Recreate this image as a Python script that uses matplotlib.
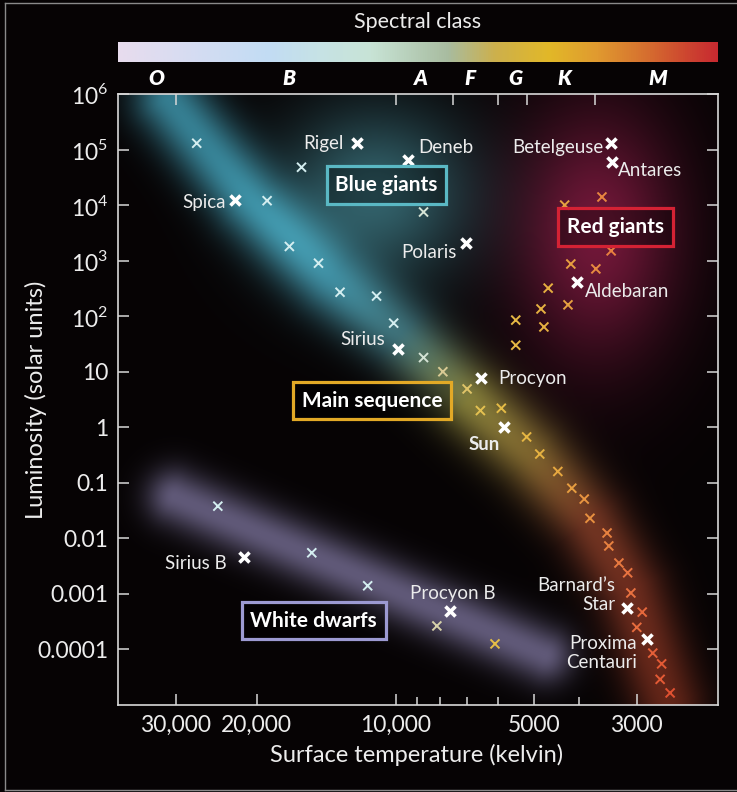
import numpy as np
import matplotlib.pyplot as plt
import matplotlib.transforms as mtransforms
from matplotlib.colors import LinearSegmentedColormap, to_rgb
from matplotlib.lines import Line2D

plt.rcParams['font.family'] = ['Lato', 'DejaVu Sans']
plt.rcParams['mathtext.fontset'] = 'custom'
plt.rcParams['mathtext.rm'] = 'Lato'

# --- data -------------------------------------------------------------
t_max, t_min = 40000, 2000
l_min, l_max = 1e-5, 1e6

# unlabeled main-sequence stars
ms_temp = [27000, 16000, 19000, 17000, 14700, 13200, 11000, 10100, 8700, 7900,
           7000, 6550, 5900, 5200, 4870, 4450, 4150, 3900, 3790, 3480,
           3450, 3280, 3140, 3090, 2920, 3000, 2770, 2650, 2670, 2540]
ms_lum = [1.3e5, 4.8e4, 1.2e4, 1800, 900, 270, 230, 75, 18, 10,
          4.9, 2.0, 2.2, 0.67, 0.33, 0.16, 0.08, 0.051, 0.023, 0.0125,
          0.0073, 0.0036, 0.0024, 0.00104, 4.7e-4, 2.5e-4, 8.6e-5, 5.5e-5, 2.9e-5, 1.65e-5]

# unlabeled giants
giant_temp = [8700, 3570, 4300, 3410, 4170, 3680, 4670, 4230, 4840, 5490, 4770, 5490]
giant_lum = [7500, 1.4e4, 1.0e4, 1500, 870, 710, 320, 160, 135, 85, 64, 30]

# unlabeled white dwarfs
wd_temp = [24300, 15200, 11500, 8140, 6090]
wd_lum = [0.038, 0.0055, 0.0014, 2.65e-4, 1.26e-4]

# named stars
names = ['Rigel', 'Deneb', 'Polaris', 'Betelgeuse', 'Antares', 'Aldebaran', 'Spica',
         'Sirius', 'Procyon', 'Sun', 'Sirius B', 'Procyon B', 'Barnard\u2019s\nStar',
         'Proxima\nCentauri']
named_temp = [12100, 9400, 7040, 3410, 3395, 4045, 22300, 9890, 6530, 5830, 21300, 7620, 3150, 2850]
named_lum = [1.3e5, 6.5e4, 2080, 1.3e5, 6.0e4, 413, 1.24e4, 25.7, 7.7, 1.0, 0.0046, 4.9e-4, 5.6e-4, 1.55e-4]

# spectral classes
spec_letters = ['O', 'B', 'A', 'F', 'G', 'K', 'M']
spec_letter_temp = [33000, 17000, 8800, 6900, 5500, 4300, 2700]
spec_bounds = [30000, 10000, 7500, 6000, 5200, 3700]

x_ticks = [30000, 20000, 10000, 5000, 3000]
x_ticklabels = ['30,000', '20,000', '10,000', '5000', '3000']
x_minor = [9000, 8000, 7000, 6000, 4000]
y_ticks = [1e-4, 1e-3, 1e-2, 1e-1, 1, 10, 1e2, 1e3, 1e4, 1e5, 1e6]
y_ticklabels = ['0.0001', '0.001', '0.01', '0.1', '1', '10',
                '$10^2$', '$10^3$', '$10^4$', '$10^5$', '$10^6$']

# glow regions
ms_path_temp = [31000, 20700, 13900, 9800, 6900, 5100, 3800, 3100, 2570]
ms_path_lum = [7.8e5, 1.2e4, 450, 46, 3.1, 0.32, 0.021, 0.0012, 1.2e-5]
ms_path_col = ['#2f7a8c', '#2f7c8e', '#2b6c7c', '#35666c', '#7a7834',
               '#746028', '#6a321e', '#66291a', '#5c2214']
wd_path_temp = [30100, 4750]
wd_path_lum = [0.0556, 8e-5]
rg_center = (3650, 3000)
bg_center = (11100, 1.5e4)

# --- colours ----------------------------------------------------------
bg = '#060304'
fg = '#ececec'
spec_cmap = LinearSegmentedColormap.from_list('spec', [
    (0.0, '#e8dcee'), (0.12, '#d6dcf2'), (0.25, '#c2dcf4'), (0.33, '#c6e2e6'),
    (0.42, '#c8e4d6'), (0.55, '#a8bca0'), (0.63, '#cdb04c'), (0.72, '#e2b828'),
    (0.80, '#e09a30'), (0.88, '#d6702f'), (0.95, '#cd4530'), (1.0, '#c82a30')])
mark_cmap = LinearSegmentedColormap.from_list('mark', [
    (0.0, '#d4eef0'), (0.38, '#d4eef0'), (0.45, '#d8c890'), (0.55, '#e6c048'),
    (0.70, '#e6b040'), (0.80, '#e89040'), (0.90, '#e87040'), (1.0, '#e05030')])


def mark_color(T):
    # 0 at 20000 K, 1 at 2500 K in log space
    f = (np.log10(20000) - np.log10(T)) / (np.log10(20000) - np.log10(2500))
    return mark_cmap(np.clip(f, 0, 1))


# --- glow image in axes pixel units -------------------------------------
W, H = 600, 611


def to_px(T, L):
    T = np.asarray(T, float)
    L = np.asarray(L, float)
    x = (np.log10(t_max) - np.log10(T)) / (np.log10(t_max) - np.log10(t_min)) * W
    y = (np.log10(L) - np.log10(l_min)) / (np.log10(l_max) - np.log10(l_min)) * H
    return x, y


px, py = np.meshgrid(np.arange(W) + 0.5, np.arange(H) + 0.5)


def band(xs, ys, cols, sigma):
    best_d = np.full(px.shape, np.inf)
    best_s = np.zeros(px.shape)
    seg = np.hypot(np.diff(xs), np.diff(ys))
    cum = np.concatenate([[0], np.cumsum(seg)])
    for i in range(len(xs) - 1):
        dx, dy = xs[i + 1] - xs[i], ys[i + 1] - ys[i]
        t = np.clip(((px - xs[i]) * dx + (py - ys[i]) * dy) / (dx * dx + dy * dy), 0, 1)
        d = np.hypot(px - xs[i] - t * dx, py - ys[i] - t * dy)
        m = d < best_d
        best_d[m] = d[m]
        best_s[m] = (cum[i] + t * seg[i])[m]
    rgb = np.array([to_rgb(c) for c in cols])
    col = np.stack([np.interp(best_s, cum, rgb[:, k]) for k in range(3)], axis=-1)
    return col * np.exp(-best_d ** 2 / (2 * sigma ** 2))[..., None]


def blob(center, sx, sy, color):
    cx, cy = to_px(*center)
    inten = np.exp(-((px - cx) ** 2 / (2 * sx ** 2) + (py - cy) ** 2 / (2 * sy ** 2)))
    return np.array(to_rgb(color))[None, None, :] * inten[..., None]


glow = np.zeros((H, W, 3))
glow += np.array(to_rgb(bg))
glow += blob(rg_center, 58, 90, '#6a1434')
glow += blob(bg_center, 68, 62, '#2c5e66')
xs, ys = to_px(ms_path_temp, ms_path_lum)
glow += band(xs, ys, ms_path_col, 25)
xs, ys = to_px(wd_path_temp, wd_path_lum)
glow += band(xs, ys, ['#5a5674', '#5a5674'], 20)
glow = np.clip(glow, 0, 1)

# --- figure -----------------------------------------------------------
fig = plt.figure(figsize=(7.37, 7.92), dpi=100, facecolor=bg)
ax = fig.add_axes([118 / 737, 1 - 705 / 792, 600 / 737, 611 / 792])
ax.set_facecolor(bg)
ax.set_xscale('log')
ax.set_yscale('log')
ax.set_xlim(t_max, t_min)
ax.set_ylim(l_min, l_max)

ax.imshow(glow, extent=(0, 1, 0, 1), transform=ax.transAxes, origin='lower',
          aspect='auto', interpolation='bilinear', zorder=0)

# stars
ax.scatter(ms_temp, ms_lum, marker='x', s=42, linewidths=1.4,
           c=[mark_color(t) for t in ms_temp], zorder=3)
ax.scatter(giant_temp, giant_lum, marker='x', s=42, linewidths=1.4,
           c=[mark_color(t) for t in giant_temp], zorder=3)
ax.scatter(wd_temp, wd_lum, marker='x', s=42, linewidths=1.4,
           c=[mark_color(t) for t in wd_temp], zorder=3)
ax.scatter(named_temp, named_lum, marker='x', s=52, linewidths=2.6, c='white', zorder=4)

# label offsets in pixels: (dx, dy, ha)
offsets = {
    'Rigel': (-14, 0, 'right'), 'Deneb': (10, 12, 'left'), 'Polaris': (-9, -10, 'right'),
    'Betelgeuse': (-8, -4, 'right'), 'Antares': (6, -9, 'left'),
    'Aldebaran': (8, -10, 'left'), 'Spica': (-9, -3, 'right'), 'Sirius': (-13, 9, 'right'),
    'Procyon': (17, 0, 'left'), 'Sun': (-4, -17, 'right'), 'Sirius B': (-17, -6, 'right'),
    'Procyon B': (3, 18, 'center'), 'Barnard\u2019s\nStar': (-12, 13, 'right'),
    'Proxima\nCentauri': (-10, -14, 'right'),
}
for n, t, l in zip(names, named_temp, named_lum):
    dx, dy, ha = offsets[n]
    ax.annotate(n, (t, l), xytext=(dx, dy), textcoords='offset pixels',
                ha=ha, va='center', ma=ha, color=fg, fontsize=13.5,
                fontweight='bold' if n == 'Sun' else 'normal',
                linespacing=1.15, zorder=5)

# region boxes
boxes = [('Blue giants', 0.4475, 0.851, '#5ab8c4'),
         ('Red giants', 0.829, 0.782, '#d42234'),
         ('Main sequence', 0.424, 0.498, '#e2a926'),
         ('White dwarfs', 0.326, 0.138, '#9c9ad2')]
for txt, u, v, ec in boxes:
    ax.text(u, v, txt, transform=ax.transAxes, ha='center', va='center',
            color='white', fontsize=15, fontweight='bold', zorder=6,
            bbox=dict(boxstyle='square,pad=0.42', fc=(0, 0, 0, 0.35), ec=ec, lw=2.3))

# axes styling
for sp in ax.spines.values():
    sp.set_color('#d8d8d8')
    sp.set_linewidth(1.2)
ax.set_xticks(x_ticks)
ax.set_xticklabels(x_ticklabels)
ax.set_xticks(x_minor, minor=True)
ax.set_xticklabels([''] * len(x_minor), minor=True)
ax.set_yticks(y_ticks)
ax.set_yticklabels(y_ticklabels)
ax.yaxis.set_minor_locator(plt.NullLocator())
ax.tick_params(axis='both', which='both', direction='in', color='#d8d8d8', width=1.1,
               labelcolor=fg, labelsize=16.5, pad=7)
ax.tick_params(axis='x', which='major', length=8)
ax.tick_params(axis='x', which='minor', length=6)
ax.tick_params(axis='y', which='both', length=8, left=True, right=True)
ax.tick_params(axis='x', top=False)

# spectral class ticks along the top
ax2 = ax.twiny()
ax2.set_xscale('log')
ax2.set_xlim(ax.get_xlim())
ax2.set_xticks(spec_bounds)
ax2.set_xticklabels([''] * len(spec_bounds))
ax2.xaxis.set_minor_locator(plt.NullLocator())
ax2.tick_params(axis='x', direction='in', length=8, width=1.1, color='#d8d8d8')
for sp in ax2.spines.values():
    sp.set_visible(False)

trans = mtransforms.blended_transform_factory(ax.transData, ax.transAxes)
for letter, t in zip(spec_letters, spec_letter_temp):
    ax.text(t, 1.026, letter, transform=trans, ha='center', va='center', color='white',
            fontsize=15, fontweight='heavy', style='italic', clip_on=False)

# spectral colour strip
cax = fig.add_axes([118 / 737, 1 - 62 / 792, 600 / 737, 20 / 792])
cax.imshow(np.linspace(0, 1, 512)[None, :], cmap=spec_cmap, aspect='auto',
           extent=(0, 1, 0, 1))
cax.set_axis_off()

fig.text(418 / 737, 1 - 22 / 792, 'Spectral class', ha='center', va='center',
         color=fg, fontsize=15.5)
fig.text(417 / 737, 1 - 755 / 792, 'Surface temperature (kelvin)', ha='center',
         va='center', color=fg, fontsize=17)
fig.text(36 / 737, 1 - 400 / 792, 'Luminosity (solar units)', ha='center',
         va='center', rotation=90, color=fg, fontsize=17)

# outer frame
for (x0, y0, x1, y1) in [(4.5, 2.5, 4.5, 789.5), (4.5, 789.5, 737, 789.5), (4.5, 2.5, 737, 2.5)]:
    fig.add_artist(Line2D([x0 / 737, x1 / 737], [1 - y0 / 792, 1 - y1 / 792],
                          color='#8a8a8a', lw=1.0, transform=fig.transFigure))

fig.savefig('out.png', dpi=100, facecolor=bg)
